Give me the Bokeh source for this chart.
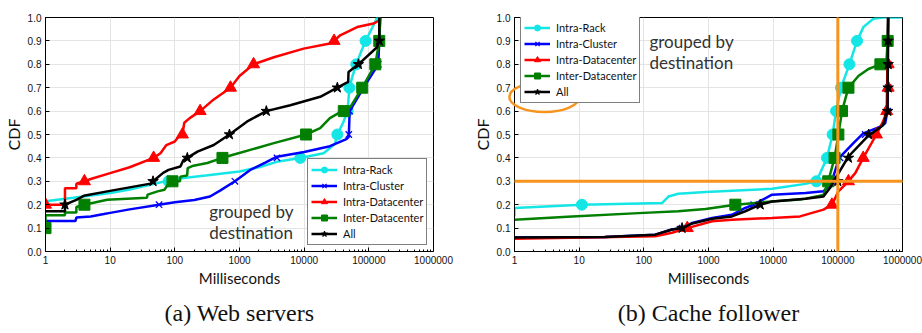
from bokeh.plotting import figure
from bokeh.layouts import row
from bokeh.models import (Range1d, Legend, LegendItem, Label, PolyAnnotation, Title,
                          NumeralTickFormatter, FixedTicker)
from bokeh.embed import file_html
from bokeh.resources import INLINE

# ---------------- data ----------------
X_TICKS = [1, 10, 100, 1000, 10000, 100000, 1000000]
Y_TICKS = [0.0, 0.1, 0.2, 0.3, 0.4, 0.5, 0.6, 0.7, 0.8, 0.9, 1.0]
SERIES = ["Intra-Rack", "Intra-Cluster", "Intra-Datacenter", "Inter-Datacenter", "All"]

# (a) Web servers
web_rack_x = [1, 2.7, 10, 20, 50, 100, 300, 1000, 2000, 4000, 8700, 20000, 30000, 32600, 40000, 47000,
              50000, 56000, 64000, 75000, 89000, 110000, 135000, 150000]
web_rack_y = [0.215, 0.23, 0.25, 0.265, 0.29, 0.31, 0.325, 0.342, 0.36, 0.385, 0.40, 0.42, 0.46, 0.5,
              0.55, 0.6, 0.7, 0.75, 0.8, 0.85, 0.9, 0.95, 1.0, 1.0]
web_rack_mx = [80, 8700, 32600, 47000, 50000, 64000, 89000]
web_rack_my = [0.3, 0.4, 0.5, 0.6, 0.7, 0.8, 0.9]

web_clus_x = [1, 2.9, 3, 5, 8, 10, 20, 57, 100, 200, 350, 500, 850, 1500, 2500, 3800, 10000, 25000,
              45000, 49000, 50500, 83000, 140000, 150000]
web_clus_y = [0.13, 0.13, 0.145, 0.15, 0.16, 0.165, 0.18, 0.2, 0.21, 0.22, 0.235, 0.26, 0.3, 0.35,
              0.38, 0.405, 0.425, 0.45, 0.48, 0.49, 0.6, 0.7, 0.8, 1.0]
web_clus_mx = [57, 850, 3800, 49000, 50500, 83000, 140000]
web_clus_my = [0.2, 0.3, 0.4, 0.5, 0.6, 0.7, 0.8]

web_dc_x = [1, 2, 2, 3, 3, 4, 5, 10, 20, 47, 60, 74, 100, 114, 131, 140, 170, 246, 400, 725, 1000,
            1650, 3400, 9800, 25000, 29000, 36000, 66000, 118000, 140000, 150000]
web_dc_y = [0.2, 0.2, 0.27, 0.27, 0.29, 0.3, 0.31, 0.335, 0.36, 0.4, 0.42, 0.455, 0.47, 0.49, 0.5,
            0.55, 0.57, 0.6, 0.65, 0.7, 0.75, 0.8, 0.83, 0.867, 0.889, 0.9, 0.924, 0.959, 0.974,
            0.985, 1.0]
web_dc_mx = [1, 4, 47, 131, 246, 725, 1650, 29000]
web_dc_my = [0.2, 0.3, 0.4, 0.5, 0.6, 0.7, 0.8, 0.9]

web_inter_x = [1, 1, 2, 2, 3, 3, 4, 9, 37, 38, 54, 69, 80, 92, 120, 122, 155, 158, 186, 318, 545,
               725, 3400, 10700, 17700, 25000, 41000, 52000, 79000, 126000, 145000, 150000]
web_inter_y = [0.08, 0.155, 0.155, 0.167, 0.167, 0.19, 0.2, 0.221, 0.23, 0.243, 0.257, 0.264, 0.29,
               0.3, 0.3, 0.32, 0.325, 0.356, 0.365, 0.378, 0.4, 0.41, 0.463, 0.5, 0.527, 0.57,
               0.604, 0.618, 0.7, 0.8, 0.9, 1.0]
web_inter_mx = [1, 4, 92, 545, 10700, 41000, 79000, 126000, 145000]
web_inter_my = [0.1, 0.2, 0.3, 0.4, 0.5, 0.6, 0.7, 0.8, 0.9]

web_all_x = [1, 2, 2, 3, 3.9, 9, 42, 46, 66, 80, 122, 136, 156, 224, 400, 700, 1300, 2600, 6100,
             17700, 32600, 48000, 48500, 69000, 135000, 145000, 145000]
web_all_y = [0.172, 0.172, 0.2, 0.221, 0.238, 0.257, 0.29, 0.3, 0.336, 0.349, 0.363, 0.391, 0.4,
             0.427, 0.455, 0.5, 0.555, 0.6, 0.625, 0.661, 0.7, 0.725, 0.767, 0.8, 0.874, 0.9, 1.0]
web_all_mx = [2, 46, 156, 700, 2600, 32600, 69000, 145000]
web_all_my = [0.2, 0.3, 0.4, 0.5, 0.6, 0.7, 0.8, 0.9]

# (b) Cache follower
cf_rack_x = [1, 1, 11, 191, 240, 340, 900, 9600, 31600, 46600, 68000, 83000, 94000, 112000, 151000,
             198000, 250000, 355000, 500000, 1000000]
cf_rack_y = [0.15, 0.186, 0.2, 0.207, 0.235, 0.247, 0.254, 0.268, 0.289, 0.3, 0.4, 0.5, 0.6, 0.7,
             0.8, 0.9, 0.96, 0.995, 1.0, 1.0]
cf_rack_mx = [11, 46600, 68000, 83000, 94000, 112000, 151000, 198000]
cf_rack_my = [0.2, 0.3, 0.4, 0.5, 0.6, 0.7, 0.8, 0.9]

cf_clus_x = [1, 25, 150, 273, 390, 560, 1140, 2300, 3700, 5000, 9600, 31600, 60000, 71000, 85000,
             105000, 174000, 247000, 455000, 540000, 585000, 600000]
cf_clus_y = [0.06, 0.062, 0.072, 0.094, 0.1, 0.122, 0.143, 0.157, 0.186, 0.2, 0.243, 0.25, 0.257,
             0.278, 0.32, 0.4, 0.463, 0.505, 0.533, 0.548, 0.6, 1.0]
cf_clus_mx = [390, 5000, 80000, 108000, 265000, 590000, 600000, 600000]
cf_clus_my = [0.1, 0.2, 0.3, 0.4, 0.5, 0.6, 0.7, 0.8]

cf_dc_x = [1, 150, 273, 470, 1140, 2300, 9600, 26000, 60000, 81000, 102000, 146000, 187000, 247000,
           395000, 500000, 570000, 600000]
cf_dc_y = [0.055, 0.065, 0.08, 0.1, 0.129, 0.136, 0.143, 0.15, 0.179, 0.2, 0.257, 0.3, 0.336, 0.4,
           0.5, 0.555, 0.6, 1.0]
cf_dc_mx = [470, 81000, 146000, 247000, 395000, 570000, 600000, 600000]
cf_dc_my = [0.1, 0.2, 0.3, 0.4, 0.5, 0.6, 0.7, 0.8]

cf_inter_x = [1, 7.8, 83, 340, 900, 2600, 9600, 26000, 31600, 60000, 71000, 89000, 102000, 116000,
              130000, 146000, 208000, 297000, 455000, 560000, 590000, 600000]
cf_inter_y = [0.136, 0.15, 0.164, 0.172, 0.182, 0.2, 0.214, 0.222, 0.226, 0.242, 0.3, 0.4, 0.5, 0.6,
              0.65, 0.7, 0.75, 0.78, 0.8, 0.8, 0.9, 1.0]
cf_inter_mx = [2600, 71000, 89000, 102000, 116000, 146000, 455000, 590000]
cf_inter_my = [0.2, 0.3, 0.4, 0.5, 0.6, 0.7, 0.8, 0.9]

cf_all_x = [1, 25, 150, 273, 390, 560, 1140, 2300, 3700, 6300, 9600, 31600, 60000, 76000, 92000,
            100000, 146000, 287000, 500000, 587000, 600000]
cf_all_y = [0.06, 0.062, 0.072, 0.094, 0.1, 0.12, 0.14, 0.15, 0.172, 0.2, 0.214, 0.225, 0.235,
            0.272, 0.315, 0.33, 0.406, 0.491, 0.54, 0.6, 1.0]
cf_all_mx = [390, 6300, 100000, 146000, 300000, 590000, 600000, 600000, 600000]
cf_all_my = [0.1, 0.2, 0.3, 0.4, 0.5, 0.6, 0.7, 0.8, 0.9]

# ---------------- style ----------------
COLORS = ["#14e6e6", "#0000ff", "#ff0000", "#007f00", "#000000"]
MARKERS = ["circle", "x", "triangle", "square", "star"]
SIZES = [11, 9, 12, 11, 11]
ORANGE = "#f7941d"
TICK_FONT = "Liberation Sans"
LABEL_FONT = "Lato"


def make_fig(border_left, border_right, caption):
    p = figure(width=461, height=333, x_axis_type="log",
               x_range=Range1d(1, 1e6), y_range=Range1d(0, 1),
               output_backend="svg", toolbar_location=None,
               min_border_left=border_left, min_border_right=border_right,
               min_border_top=17, min_border_bottom=81)
    p.outline_line_color = "black"
    p.outline_line_width = 1
    minor = [d * m for d in X_TICKS[:-1] for m in range(2, 10)]
    xt = FixedTicker(ticks=X_TICKS, minor_ticks=minor)
    yt = FixedTicker(ticks=Y_TICKS)
    p.xaxis.ticker = xt
    p.yaxis.ticker = yt
    p.xaxis.formatter = NumeralTickFormatter(format="0")
    p.yaxis.formatter = NumeralTickFormatter(format="0.0")
    for ax in (p.xaxis[0], p.yaxis[0]):
        ax.major_tick_in = 4
        ax.major_tick_out = 0
        ax.minor_tick_in = 2
        ax.minor_tick_out = 0
        ax.axis_line_color = "black"
        ax.major_label_text_font = TICK_FONT
        ax.major_label_text_font_size = "10px"
        ax.major_label_text_color = "#111111"
        ax.axis_label_text_font = LABEL_FONT
        ax.axis_label_text_font_style = "normal"
        ax.axis_label_text_color = "#111111"
    p.yaxis.minor_tick_line_color = None
    p.xaxis.major_label_standoff = 4
    p.yaxis.major_label_standoff = 4
    p.xaxis.axis_label = "Milliseconds"
    p.xaxis.axis_label_text_font_size = "15px"
    p.xaxis.axis_label_standoff = 2
    p.yaxis.axis_label = "CDF"
    p.yaxis.axis_label_text_font_size = "16px"
    p.yaxis.axis_label_standoff = 2

    p.xgrid.ticker = xt
    p.ygrid.ticker = yt
    p.xgrid.grid_line_color = "#e4e4e4"
    p.ygrid.grid_line_color = "#e4e4e4"

    p.add_layout(Title(text=caption, align="center", text_font="Liberation Serif",
                       text_font_size="24px", text_font_style="normal", text_color="#111111",
                       standoff=16), "below")
    return p


def draw(p, data):
    items = []
    for i, (lx, ly, mx, my) in enumerate(data):
        lr = p.line(lx, ly, line_color=COLORS[i], line_width=2.5)
        kw = dict(marker=MARKERS[i], size=SIZES[i], line_color=COLORS[i])
        if MARKERS[i] == "x":
            kw["line_width"] = 1.3
        else:
            kw["fill_color"] = COLORS[i]
        sr = p.scatter(mx, my, **kw)
        items.append(LegendItem(label=SERIES[i], renderers=[lr, sr]))
    return items


def style_legend(leg):
    leg.border_line_color = "black"
    leg.border_line_width = 1
    leg.background_fill_alpha = 1
    leg.label_text_font = LABEL_FONT
    leg.label_text_font_size = "11px"
    leg.label_text_color = "#111111"
    leg.label_height = 15
    leg.glyph_height = 15
    leg.glyph_width = 26
    leg.label_standoff = 6
    leg.padding = 3
    leg.spacing = 1
    leg.margin = 0


# ---- (a) ----
pa = make_fig(45, 28, "(a) Web servers")
items_a = draw(pa, [
    (web_rack_x, web_rack_y, web_rack_mx, web_rack_my),
    (web_clus_x, web_clus_y, web_clus_mx, web_clus_my),
    (web_dc_x, web_dc_y, web_dc_mx, web_dc_my),
    (web_inter_x, web_inter_y, web_inter_mx, web_inter_my),
    (web_all_x, web_all_y, web_all_mx, web_all_my),
])
leg_a = Legend(items=items_a, location=(262, 6))
style_legend(leg_a)
pa.add_layout(leg_a, "center")
for txt, yy in (("grouped by", 0.17), ("destination", 0.081)):
    pa.add_layout(Label(x=340, y=yy, text=txt, text_font=LABEL_FONT, text_font_size="17px",
                        text_baseline="middle", text_color="#333333"))

# ---- (b) ----
pb = make_fig(53, 20, "(b) Cache follower")
items_b = draw(pb, [
    (cf_rack_x, cf_rack_y, cf_rack_mx, cf_rack_my),
    (cf_clus_x, cf_clus_y, cf_clus_mx, cf_clus_my),
    (cf_dc_x, cf_dc_y, cf_dc_mx, cf_dc_my),
    (cf_inter_x, cf_inter_y, cf_inter_mx, cf_inter_my),
    (cf_all_x, cf_all_y, cf_all_mx, cf_all_my),
])
leg_b = Legend(items=items_b, location=(6, 148))
style_legend(leg_b)
pb.add_layout(leg_b, "center")
for txt, yy in (("grouped by", 0.898), ("destination", 0.809)):
    pb.add_layout(Label(x=122, y=yy, text=txt, text_font=LABEL_FONT, text_font_size="17px",
                        text_baseline="middle", text_color="#333333"))

# orange highlight annotations
pb.add_layout(PolyAnnotation(xs=[100000, 100000], ys=[-0.5, 1.2], line_color=ORANGE,
                             line_alpha=1, line_width=3, fill_alpha=0, level="overlay"))
pb.add_layout(PolyAnnotation(xs=[0.75, 1.48e6], ys=[0.3, 0.3], line_color=ORANGE,
                             line_alpha=1, line_width=3, fill_alpha=0, level="overlay"))
pb.ellipse(x=[2.9], y=[0.66], width=70, height=30, width_units="screen", height_units="screen",
           fill_color=None, line_color=ORANGE, line_width=2.5, level="overlay")

layout = row(pa, pb)
open("out.html", "w").write(file_html(layout, INLINE))
